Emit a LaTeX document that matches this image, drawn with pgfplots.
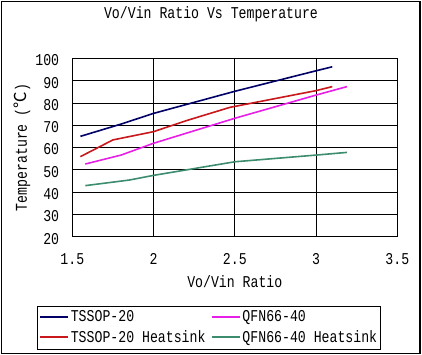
\documentclass[border=0pt]{standalone}
\usepackage{fontspec}
\setmainfont[FakeStretch=0.8]{Liberation Mono}
\newfontfamily\cjk{Noto Sans CJK SC}
\usepackage{pgfplots}
\pgfplotsset{compat=1.18}
\definecolor{cnavy}{RGB}{0,0,102}
\definecolor{cred}{RGB}{200,24,28}
\definecolor{cmag}{RGB}{230,30,230}
\definecolor{cgreen}{RGB}{60,140,110}
\begin{document}
\fontsize{16.5bp}{19bp}\selectfont
\begin{tikzpicture}
\useasboundingbox (-72.3bp,-118.3bp) rectangle (349.7bp,236.7bp);
\begin{axis}[
  scale only axis, width=325bp, height=178.4bp,
  xmin=1.5, xmax=3.5, ymin=20, ymax=100,
  xtick={1.5,2,2.5,3,3.5}, ytick={20,30,40,50,60,70,80,90,100},
  /pgf/number format/assume math mode=true,
  grid=major, major grid style={black, line width=0.8bp},
  axis line style={black, line width=0.8bp},
  major tick length=0pt,
  xticklabel style={anchor=north, inner sep=0pt, yshift=-17bp},
  yticklabel style={anchor=east, inner sep=0pt, xshift=-13bp, yshift=-2bp},
  title={Vo/Vin Ratio Vs Temperature},
  title style={at={(0.4268,1.2147)}, anchor=center, inner sep=0pt},
  xlabel={Vo/Vin Ratio},
  xlabel style={at={(0.5,-0.2522)}, anchor=center, inner sep=0pt},
  ylabel={Temperature ({\cjk ℃})},
  ylabel style={at={(-0.154,0.5)}, anchor=center, inner sep=0pt},
  legend columns=2,
  legend image code/.code={\draw[#1, line width=2bp] (0bp,0bp) -- (28bp,0bp);},
  legend style={draw=black, line width=0.8bp, at={(0.4206,-0.509)}, anchor=center,
    inner xsep=2bp, inner ysep=3bp, row sep=3bp,
    nodes={inner sep=1.5bp}, cells={anchor=west},
    /tikz/every even column/.append style={column sep=4bp}},
  every axis plot/.append style={line width=1.6bp, no markers},
]
\addplot[cnavy] coordinates {(1.55,65.0) (1.8,70.5) (2.0,75.3) (2.5,85.2) (3.0,94.4) (3.1,96.2)};
\addlegendentry{TSSOP-20}
\addplot[cmag] coordinates {(1.58,52.6) (1.8,56.6) (2.0,61.9) (2.5,73.1) (3.0,83.5) (3.19,87.3)};
\addlegendentry{QFN66-40}
\addplot[cred] coordinates {(1.55,55.9) (1.75,63.4) (2.0,67.1) (2.2,72.0) (2.47,78.0) (3.0,85.5) (3.1,87.3)};
\addlegendentry{TSSOP-20 Heatsink}
\addplot[cgreen] coordinates {(1.58,42.9) (1.85,45.4) (2.0,47.5) (2.5,53.6) (3.0,56.6) (3.19,57.8)};
\addlegendentry{QFN66-40 Heatsink}
\end{axis}
\draw[black, line width=1.2bp] (-70.8bp,-116.8bp) rectangle (347.7bp,235.2bp);
\end{tikzpicture}
\end{document}
